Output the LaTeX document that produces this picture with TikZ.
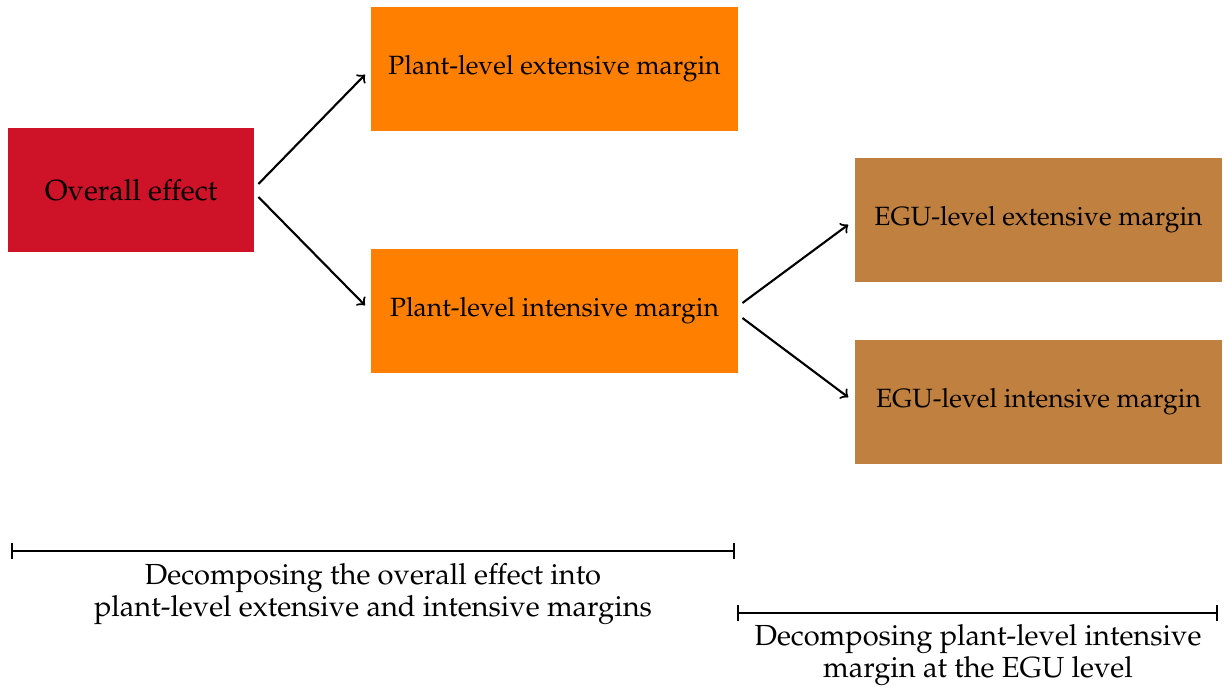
\documentclass[tikz,border=0pt]{standalone}
\usepackage[T1]{fontenc}
\usepackage{mathpazo}
\usepackage[HTML]{xcolor}
\usetikzlibrary{positioning, arrows, arrows.meta}

\definecolor{effectred}{HTML}{CE1228}
\definecolor{plantorange}{HTML}{FF8000}
\definecolor{egubrown}{HTML}{C08040}

\begin{document}
\begin{tikzpicture}[>=to, x=0.0133cm, y=-0.0133cm,
    box/.style={inner sep=0pt, minimum height=1.65cm, align=center,
        font=\fontsize{10}{12}\selectfont},
    link/.style={->, thick, shorten >=3pt},
    span/.style={{Bar[width=6pt]}-{Bar[width=6pt]}, thick},
    caption/.style={align=center, font=\fontsize{11}{12.2}\selectfont}]

    \useasboundingbox (0,0) rectangle (1228,692);

    % 1. Define Nodes: overall effect, plant-level and EGU-level margins
    \node (overall) [box, fill=effectred, minimum width=3.27cm, font=\fontsize{11}{13}\selectfont] at (131,190) {Overall effect};
    \node (pext) [box, fill=plantorange, minimum width=4.88cm] at (554.5,69) {Plant-level extensive margin};
    \node (pint) [box, fill=plantorange, minimum width=4.88cm] at (554.5,311) {Plant-level intensive margin};
    \node (eext) [box, fill=egubrown, minimum width=4.88cm] at (1038.5,220) {EGU-level extensive margin};
    \node (eint) [box, fill=egubrown, minimum width=4.88cm] at (1038.5,402) {EGU-level intensive margin};

    % 2. Draw Arrows from the overall effect to the plant-level margins
    \draw[link] ([shift={(4,-6)}]overall.east) -- (pext.west);
    \draw[link] ([shift={(4,7)}]overall.east) -- (pint.west);

    % 3. Draw Arrows from the plant-level intensive margin to the EGU level
    \draw[link] ([shift={(4,-8)}]pint.east) -- (eext.west);
    \draw[link] ([shift={(4,7)}]pint.east) -- (eint.west);

    % 4. Spans and their captions
    \coordinate (s1a) at (11,551);
    \coordinate (s1b) at (735,551);
    \coordinate (s2a) at (737,613);
    \coordinate (s2b) at (1218,613);
    \draw[span] (s1a) -- (s1b);
    \draw[span] (s2a) -- (s2b);
    \node (cap1) [caption] at (373,594) {Decomposing the overall effect into\\plant-level extensive and intensive margins};
    \node (cap2) [caption] at (978,655) {Decomposing plant-level intensive\\margin at the EGU level};
\end{tikzpicture}
\end{document}
